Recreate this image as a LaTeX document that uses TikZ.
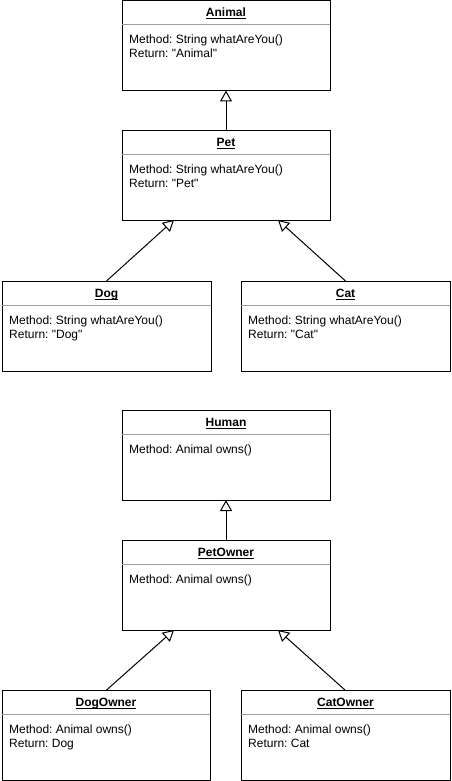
\documentclass[tikz,border=0pt]{standalone}
\usepackage{fontspec}
\setmainfont{Liberation Sans}
\frenchspacing
\usetikzlibrary{arrows.meta,calc}
\newcommand\qq{\textquotedbl}
\newcommand\umlclass[7]{%
  \node[classbox, minimum width=#4pt, anchor=north west] (#1) at (#2,#3) {};
  \draw[sepline] ([yshift=-24pt]#1.north west) -- ([yshift=-24pt]#1.north east);
  \node[titletext, anchor=base] (#1-title) at ([yshift=-16.3pt]#1.north) {\underline{\smash{\textbf{#5}}}};
  \node[bodytext, anchor=base west] (#1-line1) at ([xshift=7pt,yshift=-43pt]#1.north west) {#6};
  \if\relax\detokenize{#7}\relax\else
  \node[bodytext, anchor=base west] (#1-line2) at ([xshift=7pt,yshift=-57pt]#1.north west) {#7};
  \fi
}
\begin{document}
\begin{tikzpicture}[x=1pt,y=-1pt,
  classbox/.style={draw=black, line width=1pt, minimum height=90pt, inner sep=0pt, outer sep=0pt, fill=white},
  sepline/.style={draw=black!38, line width=1pt},
  titletext/.style={inner sep=0pt, font=\fontsize{12}{14}\selectfont\frenchspacing},
  bodytext/.style={inner sep=0pt, font=\fontsize{12}{14}\selectfont\frenchspacing},
  inherit/.style={draw=black, line width=1pt, -{Triangle[open,length=11pt,width=12pt]}}]
\useasboundingbox[fill=white] (0,0) rectangle (452,781);
\umlclass{animal}{122}{0.5}{208}{Animal}{Method: String whatAreYou()}{Return: \qq Animal\qq}
\umlclass{pet}{122}{130}{208}{Pet}{Method: String whatAreYou()}{Return: \qq Pet\qq}
\umlclass{dog}{2}{281}{209}{Dog}{Method: String whatAreYou()}{Return: \qq Dog\qq}
\umlclass{cat}{241}{281}{209}{Cat}{Method: String whatAreYou()}{Return: \qq Cat\qq}
\umlclass{human}{122}{410}{208}{Human}{Method: Animal owns()}{}
\umlclass{petowner}{122}{540}{208}{PetOwner}{Method: Animal owns()}{}
\umlclass{dogowner}{2}{690.5}{208}{DogOwner}{Method: Animal owns()}{Return: Dog}
\umlclass{catowner}{241}{690.5}{209}{CatOwner}{Method: Animal owns()}{Return: Cat}
\draw[inherit] (pet.north) -- (animal.south);
\draw[inherit] (dog.north) -- ($(pet.south west)!0.25!(pet.south east)$);
\draw[inherit] (cat.north) -- ($(pet.south west)!0.75!(pet.south east)$);
\draw[inherit] (petowner.north) -- (human.south);
\draw[inherit] (dogowner.north) -- ($(petowner.south west)!0.25!(petowner.south east)$);
\draw[inherit] (catowner.north) -- ($(petowner.south west)!0.75!(petowner.south east)$);
\end{tikzpicture}
\end{document}
